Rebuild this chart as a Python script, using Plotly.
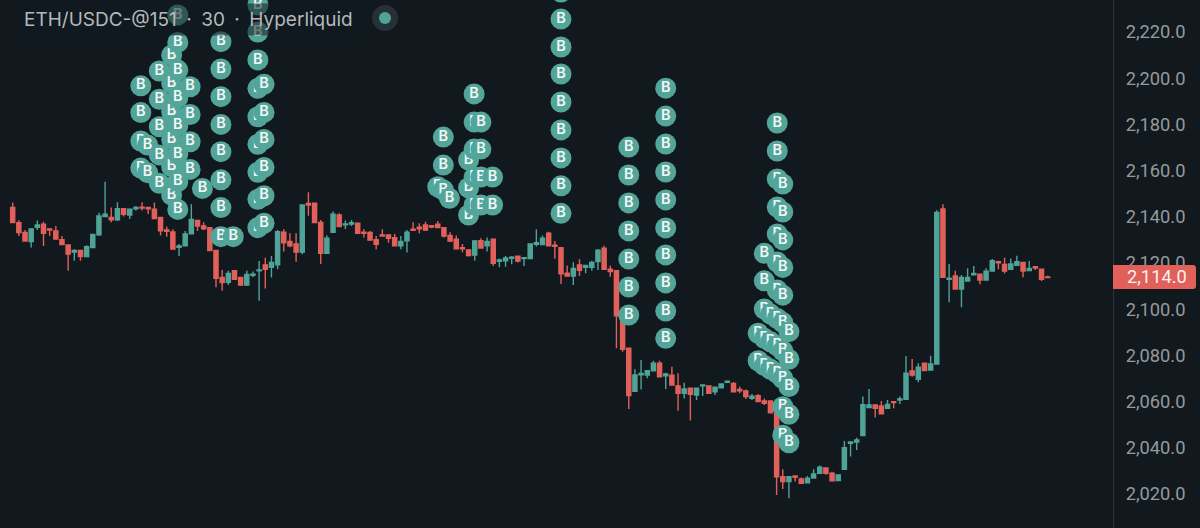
import plotly.graph_objects as go

# 30 min candles
opens = [2144,2137.5,2133.2,2129.3,2135.5,2136.8,2134.8,2133.9,2130.1,2127.8,
2124.7,2125.4,2122.8,2126.7,2132.2,2140.1,2139.7,2138.7,2143.5,2140.8,
2143.5,2144.2,2144,2143.3,2139.7,2134.3,2133.4,2126.8,2127.4,2132.6,
2138.4,2136,2135.3,2125.4,2113.8,2111.7,2116.7,2113.8,2110.5,2114.7,
2116.6,2119.2,2118.2,2119.2,2133.3,2129.3,2128.3,2124.7,2145.8,2145.9,
2137.6,2124.2,2133.3,2140.8,2136.5,2136.9,2137.2,2133.3,2133.2,2130.1,
2132.2,2132.2,2131,2127.4,2129.6,2134.6,2135.5,2136.5,2136.2,2136.8,
2135.3,2131.9,2130.3,2126.6,2125.7,2123.5,2129.7,2127.5,2130.3,2120.7,
2121,2122,2123,2121.9,2121.9,2128.1,2128,2132.9,2127.7,2126.6,
2115.6,2114.4,2119.2,2118.2,2118.1,2120.6,2126.4,2117.3,2116.7,2097.1,
2083.1,2064.5,2071.6,2071.5,2073.3,2076.6,2071.2,2071.4,2066.8,2063.6,
2065.8,2062.9,2066.8,2066.8,2064.3,2066,2068.4,2067.9,2065.3,2064.6,
2061.4,2062.6,2060.3,2060.3,2054.9,2027.5,2025.4,2027.8,2026.5,2024.9,
2026.9,2029,2031.3,2029,2025.8,2030.7,2042,2042.5,2045.3,2057.4,
2058.6,2058.1,2057.1,2060,2060.7,2061,2073.3,2069.7,2076.6,2073.7,
2076.3,2143.4,2112.9,2114.4,2108.7,2112.2,2114.9,2115.2,2112.6,2116.5,
2120.6,2119.4,2117.3,2119,2120.3,2116.7,2118.4,2117.3,2114]

highs = [2146.2,2138.5,2134.3,2134.8,2138.4,2137.9,2134.8,2136,2131.7,2127.8,
2126,2125.4,2127.7,2132.4,2141.8,2155.2,2144,2146.3,2143.5,2143.5,
2144.7,2146.3,2144,2146.2,2139.7,2135.8,2134.6,2128.2,2133.9,2145.4,
2138.4,2137.6,2135.3,2125.4,2117,2116.7,2116.7,2113.8,2116.7,2116.3,
2120.9,2122.3,2123,2134.3,2134.6,2132.9,2132.9,2145.1,2150.6,2145.9,
2138.6,2132,2142.3,2141.5,2138.4,2138.6,2137.2,2134.6,2133.9,2131.7,
2134.6,2132.2,2132.6,2131.7,2134.3,2137.6,2137.2,2137.9,2136.5,2138.2,
2135.3,2133.3,2131.9,2128.2,2125.7,2130,2130.7,2131,2130.3,2122,
2123,2123,2123,2122.3,2128.2,2134.6,2131.9,2133.5,2129.5,2126.6,
2118.9,2120.3,2121.6,2119.2,2121,2126.1,2127.5,2118.9,2116.7,2097.1,
2083.1,2074,2078,2073.4,2077.7,2077.7,2072.5,2075.1,2072.3,2068.2,
2065.8,2066,2067.2,2066.8,2066.2,2067.6,2068.8,2068.5,2066.5,2065.3,
2063.3,2063.3,2061.4,2060.3,2054.9,2030.7,2027.5,2027.8,2027.2,2027.8,
2030.7,2032.4,2031.3,2029.6,2028.3,2043,2042.6,2044.4,2062.2,2065.5,
2058.6,2060.3,2060.7,2060,2062.2,2079.8,2078.5,2076.6,2076.6,2079.9,
2142.8,2145.4,2119.6,2116.7,2114.8,2117.7,2118.7,2115.2,2117.7,2121.7,
2121,2122.3,2122,2123.2,2120.3,2120.9,2118.7,2117.3,2114.5]

lows = [2137.5,2131.7,2129.2,2126.7,2134.3,2127.4,2131.7,2130.3,2127.8,2116.7,
2121,2121,2122.8,2126.7,2131.7,2140,2137.6,2138.2,2140.1,2139,
2142.7,2142.7,2141.2,2139.2,2131.9,2131.4,2126,2123,2127.4,2132.6,
2133.9,2134.3,2125.4,2109.5,2108,2110.5,2112.9,2110,2110,2113.8,
2103.7,2109,2113.7,2117.3,2125,2126.8,2120.6,2123.8,2140.5,2137.5,
2119.6,2124.2,2133.3,2135.8,2134.7,2136,2132.9,2131,2129.9,2126,
2131.7,2128.8,2127.4,2126,2124.5,2133.9,2132.9,2133.9,2135,2135.3,
2131,2129.1,2126.2,2124.7,2122.8,2121,2126.5,2125,2118.7,2118.2,
2118.4,2119.5,2120.2,2118.7,2121.9,2127.1,2128,2127.4,2121.8,2110.9,
2114.4,2110.5,2114.4,2115.6,2116.7,2117,2117.3,2114.1,2083.1,2081.6,
2056.8,2064.5,2065.3,2070.1,2073.3,2070.8,2065.5,2067.2,2056,2061.4,
2051.8,2060.7,2062.4,2063.6,2062.9,2066,2068.4,2064.3,2063.6,2061.1,
2060.7,2060,2058.5,2055.2,2019.6,2022.2,2018.2,2025.4,2024.6,2024.9,
2026.9,2029,2028.3,2025.7,2025.8,2030.7,2036.2,2039.1,2045.3,2057.4,
2053.1,2054.7,2057.1,2057.1,2059,2061,2070.8,2068.4,2073.4,2073.7,
2076.3,2113.8,2103,2108.7,2100.8,2112.2,2114.9,2110.8,2112.6,2116.5,
2117.3,2115.5,2117.3,2119,2113.8,2116.7,2117,2112.2,2113.7]

closes = [2137.5,2133.2,2129.5,2134.8,2136.5,2132.9,2134.3,2130.4,2128,2123.9,
2125.4,2122.8,2127.1,2132.4,2140.4,2141.1,2138.7,2143.5,2141.1,2143.3,
2144,2143.8,2143.5,2139.2,2133.9,2133.7,2126,2127.4,2132.6,2138.9,
2136,2134.8,2125.4,2113.4,2111.5,2115.5,2113,2110.5,2115.1,2115.2,
2117,2117.3,2120.2,2133.6,2128.8,2127.4,2124.7,2145.1,2145.1,2137.5,
2124.2,2130.7,2141.1,2135.8,2136.9,2137.5,2132.9,2132.9,2129.9,2128.1,
2131.7,2130.7,2127.4,2129.3,2133.3,2134.2,2134.8,2134.3,2135.6,2135.3,
2131.7,2129.5,2126.2,2126.2,2123.2,2129.5,2126.5,2129.3,2119.9,2121.3,
2122.2,2122.5,2120.9,2122.3,2128.2,2128.8,2130.7,2127.4,2127.2,2115.3,
2114.4,2117.7,2116.9,2118.9,2120.3,2125.6,2117.3,2116.3,2097.1,2082.6,
2062.6,2071.5,2072.2,2073.4,2076.6,2070.8,2072,2067.2,2063.6,2065.5,
2063.2,2065.8,2067.2,2063.6,2066.2,2067.6,2068.8,2064.3,2064.7,2062.2,
2062.4,2060,2059.3,2055.2,2027.5,2025.4,2027.5,2027.2,2024.6,2026.9,
2028.7,2031.6,2029,2025.7,2028.3,2040.1,2042.6,2043.4,2058.7,2058.6,
2057.1,2054.7,2058.8,2059.6,2061.2,2072.3,2071.5,2074.9,2073.4,2076.3,
2141.9,2113.8,2113.4,2108.7,2113.8,2113.8,2115.5,2112.6,2116.5,2121,
2120.1,2116.5,2119.6,2120.6,2116.5,2117.7,2117.8,2112.9,2113.7]

# buy bubbles, one list per bar column (later columns sit on top)
buy_bars = [20.8, 21.9, 23.8, 25.8, 26.8, 28.8, 30.8, 33.8, 35.8, 39.8, 40.8,
            69, 69.9, 70.9, 74, 74.9, 76, 77.9, 89, 100, 106,
            121, 122, 123, 124.1, 125, 126]
buy_prices = [
    [2196.7,2185.1,2172.8,2161.1],
    [2171.1,2159.1],
    [2203.1,2190.9,2179,2166.8,2154.5],
    [2210,2197.9,2185.5,2173.5,2161.7,2149.4],
    [2227.4,2215.5,2203.5,2191.5,2179.4,2167.2,2155.2,2143.2],
    [2196.3,2184.3,2172.5,2160.5],
    [2152.3],
    [2215.8,2204,2192,2180,2168.2,2156,2144,2131.4],
    [2131.4],
    [2231.7,2220,2207.9,2195.6,2183.3,2171.4,2159.3,2147.6,2135.3],
    [2197.4,2185.2,2173.5,2161.4,2149.1,2137.2],
    [2153],
    [2174.5,2162.4,2151.6],
    [2148],
    [2164.6,2152.6,2140.8],
    [2193.2,2181,2169.3,2157.2,2145.1],
    [2181,2169.3,2157.2,2145.1],
    [2157.2,2145.1],
    [2237.3,2225.6,2213.5,2201.8,2189.7,2177.6,2165.5,2153.4,2141.5],
    [2170.2,2158.1,2146,2133.9,2121.7,2109.6,2097.5],
    [2195.7,2183.6,2171.5,2159.4,2147.3,2135.2,2123.5,2111.4,2099.2,2087.4],
    [2089.6,2077.7],
    [2124.2,2112.3,2100.1,2087.4,2075.6],
    [2097.9,2085.9,2074],
    [2180.6,2168.5,2156.4,2144.2,2132.6,2120.4,2108.3,2096,2084.2,2072.2],
    [2154.2,2142.1,2130,2118.1,2106.1,2094.2,2082,2070,2057.8,2045.5],
    [2090.3,2078.3,2066.5,2054.5,2042.2],
]

last_price = 2114.0
price_ticks = [2020, 2040, 2060, 2080, 2100, 2120, 2140, 2160, 2180, 2200, 2220]

BG = "#11191f"
GREEN = "#4fa397"
RED = "#e2605a"
FONT = "Inter"
AXIS_FONT = "Roboto"

fig = go.Figure()

fig.add_trace(go.Candlestick(
    x=list(range(len(opens))), open=opens, high=highs, low=lows, close=closes,
    increasing=dict(line=dict(color=GREEN, width=1.4), fillcolor=GREEN),
    decreasing=dict(line=dict(color=RED, width=1.4), fillcolor=RED),
    whiskerwidth=0, hoverinfo="skip",
))

for bar, prices in zip(buy_bars, buy_prices):
    fig.add_trace(go.Scatter(
        x=[bar] * len(prices), y=prices, mode="markers+text",
        marker=dict(size=21, color="#52a598", line=dict(width=0)),
        text=["B"] * len(prices), textposition="middle center",
        textfont=dict(family=FONT, size=14.5, color="#f2f7f6", weight=600),
        hoverinfo="skip",
    ))

fig.update_layout(
    width=1200, height=528,
    margin=dict(l=0, r=87, t=0, b=0),
    paper_bgcolor=BG, plot_bgcolor=BG,
    showlegend=False, boxgap=0.05,
    xaxis=dict(range=[-2.06, 178.6], visible=False, rangeslider=dict(visible=False), fixedrange=True),
    yaxis=dict(
        side="right", range=[2005.3, 2233.85], tickvals=price_ticks, tickformat=",.1f",
        showgrid=False, zeroline=False, showline=True, linecolor="#2c3439", linewidth=1,
        ticks="", ticklabelstandoff=8,
        tickfont=dict(family=AXIS_FONT, size=18.3, color="#94999c"),
    ),
)

# last price tag on the axis, rounded corners
fig.add_shape(
    type="path", xref="paper", yref="y", xsizemode="pixel", ysizemode="pixel",
    xanchor=1, yanchor=last_price, layer="above", line_width=0, fillcolor=RED,
    path="M 0,-12 L 80,-12 Q 83,-12 83,-9 L 83,9 Q 83,12 80,12 L 0,12 Z",
)
fig.add_annotation(
    xref="paper", yref="y", x=1, y=last_price, xshift=12, xanchor="left", yanchor="middle",
    text=f"{last_price:,.1f}", showarrow=False,
    font=dict(family=AXIS_FONT, size=18.3, color="#f6f3f2"),
)

# header text, its backing dims the bubbles under it (en spaces round the dots)
fig.add_annotation(
    xref="paper", yref="paper", x=0, y=1, xshift=19, yshift=-3, xanchor="left", yanchor="top",
    text="ETH/USDC-@151\u2002·\u200230\u2002·\u2002Hyperliquid", showarrow=False,
    bgcolor="rgba(17,25,31,0.55)", borderpad=4,
    font=dict(family=FONT, size=19, color="#b4b8ba"),
)

# status dot
fig.add_shape(type="circle", xref="paper", yref="paper", xsizemode="pixel", ysizemode="pixel",
              xanchor=385 / 1113, yanchor=1 - 18 / 528, x0=-13, x1=13, y0=-13, y1=13,
              line_width=0, fillcolor="#263036", layer="above")
fig.add_shape(type="circle", xref="paper", yref="paper", xsizemode="pixel", ysizemode="pixel",
              xanchor=385 / 1113, yanchor=1 - 18 / 528, x0=-6, x1=6, y0=-6, y1=6,
              line_width=0, fillcolor=GREEN, layer="above")

# page margin would push the chart off the window
fig.write_html("out.html", config=dict(displayModeBar=False),
               post_script="document.body.style.margin='0';")
